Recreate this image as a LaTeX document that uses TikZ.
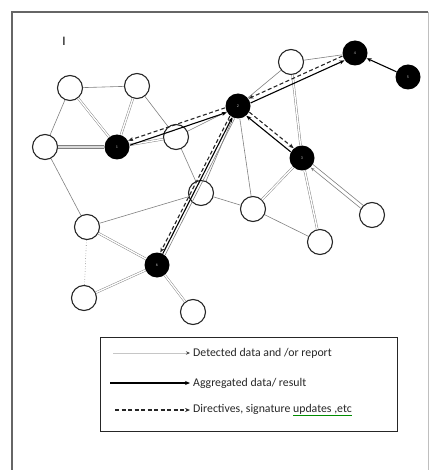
\documentclass[tikz,border=0pt]{standalone}
\usepackage{fontspec}
\setmainfont{Carlito}
\usetikzlibrary{arrows.meta,positioning,calc}

\definecolor{linkgray}{gray}{0.5}
\definecolor{textgray}{gray}{0.15}

\begin{document}
\begin{tikzpicture}[
  x=1pt, y=-1pt,
  onode/.style={circle, draw=black!85, line width=1.1pt, fill=white, minimum size=25pt, inner sep=0pt},
  bnode/.style={circle, fill=black, minimum size=25pt, inner sep=0pt, text=white!75!black, font=\fontsize{4}{4}\selectfont},
  link/.style={draw=linkgray, line width=0.6pt},
  dlink/.style={draw=linkgray, line width=0.45pt, double=white, double distance=1.4pt},
  agg/.style={draw=black, line width=1.1pt, -{Stealth[length=5pt,width=4pt]}},
  dir/.style={draw=black!85, line width=1.1pt, dash pattern=on 4pt off 2.5pt, -{Stealth[length=5pt,width=4pt]}},
  det/.style={draw=linkgray, line width=0.6pt, -{Stealth[length=4pt,width=3pt]}},
  lgtext/.style={anchor=west, inner sep=0pt, text=textgray, font=\fontsize{11.8}{13}\selectfont}
]
  \useasboundingbox (0,0) rectangle (432,470);
  % frame
  \draw[black!60, line width=1.3pt] (12,470) -- (12,12) -- (428,12);
  \draw[black!25, line width=1pt] (428,12) -- (428,470);
  \node[inner sep=0pt, font=\fontsize{13}{13}\selectfont] (tag) at (64,41) {I};

  % nodes
  \node[onode] (oA) at (70,88) {};
  \node[onode] (oB) at (137,86) {};
  \node[onode] (oC) at (45,147) {};
  \node[onode] (oD) at (176,137) {};
  \node[onode] (oE) at (201,193) {};
  \node[onode] (oF) at (291,62) {};
  \node[onode] (oG) at (253,209) {};
  \node[onode] (oH) at (320,242) {};
  \node[onode] (oJ) at (372,215) {};
  \node[onode] (oK) at (87,227) {};
  \node[onode] (oL) at (84,298) {};
  \node[onode] (oM) at (193,312) {};
  \node[bnode] (n1) at (117,147) {1};
  \node[bnode] (n2) at (238,106) {2};
  \node[bnode] (n3) at (302,158) {3};
  \node[bnode] (n4) at (355,53) {4};
  \node[bnode] (n5) at (408,77) {5};
  \node[bnode] (n6) at (157,265) {6};

  % plain links
  \draw[link] (oA) -- (oB);
  \draw[link] (oA) -- (oC);
  \draw[link] (oB) -- (oD);
  \draw[link] (oC) -- (oK);
  \draw[link] (oD) -- (oE);
  \draw[link] (oK) -- (oE);
  \draw[link] (oD) -- (n2);
  \draw[link] (oE) -- (n2);
  \draw[link] (n2) -- (oG);
  \draw[link] (n2) -- (oF);
  \draw[link] (oF) -- (n4);
  \draw[link] (oG) -- (oH);
  \draw[link] (oE) -- (oG);
  \draw[link, dotted] (oK) -- (oL);

  % detected data
  \draw[dlink] (oA) -- (n1);
  \draw[dlink] (oB) -- (n1);
  \draw[dlink] (oD) -- (n1);
  \draw[dlink, double=gray!30, double distance=2.2pt] (oC) -- (n1);
  \draw[dlink] (oF) -- (n3);
  \draw[dlink] (n3) -- (oG);
  \draw[dlink] (n3) -- (oH);
  \draw[dlink] (oK) -- (n6);
  \draw[dlink] (oL) -- (n6);
  \draw[dlink] (n6) -- (oM);
  \draw[link, transform canvas={shift={(1.2,-1.5)}}] (oJ) -- (n3);
  \draw[det, transform canvas={shift={(-1.2,1.5)}}] (oJ) -- (n3);

  % aggregated data and directives
  \draw[dir, transform canvas={shift={(-0.8,-2.3)}}] (n2) -- (n1);
  \draw[agg, transform canvas={shift={(0.8,2.3)}}] (n1) -- (n2);
  \draw[dir, transform canvas={shift={(-1,-2.2)}}] (n4) -- (n2);
  \draw[agg, transform canvas={shift={(1,2.2)}}] (n2) -- (n4);
  \draw[dir, transform canvas={shift={(-2.4,-1.2)}}] (n2) -- (n6);
  \draw[agg] (n6) -- (n2);
  \draw[link, transform canvas={shift={(2.4,1.2)}}] (n6) -- (n2);
  \draw[dir, transform canvas={shift={(1.5,-1.8)}}] (n2) -- (n3);
  \draw[agg, transform canvas={shift={(-1.5,1.8)}}] (n3) -- (n2);
  \draw[agg] (n5) -- (n4);

  % legend
  \node[draw=black!85, line width=1.4pt, minimum width=297pt, minimum height=94pt, anchor=north west] (legend) at (100,337) {};
  \node[lgtext] (lg1) at (193,353) {Detected data and /or report};
  \node[lgtext] (lg2) at (193,383) {Aggregated data/ result};
  \node[lgtext] (lg3) at (193,410) {Directives, signature {\color{green!55!black}\underline{\textcolor{textgray}{updates ,etc}}}};
  \coordinate (lg1s) at (113,353);
  \coordinate (lg2s) at (110,383);
  \coordinate (lg3s) at (115,410);
  \draw[det, draw=gray!45, -{Stealth[length=4pt,width=3.5pt,color=black!70]}] (lg1s) -- ([xshift=-3pt]lg1.west);
  \draw[agg] (lg2s) -- ([xshift=-3pt]lg2.west);
  \draw[dir] (lg3s) -- ([xshift=-3pt]lg3.west);
\end{tikzpicture}
\end{document}
